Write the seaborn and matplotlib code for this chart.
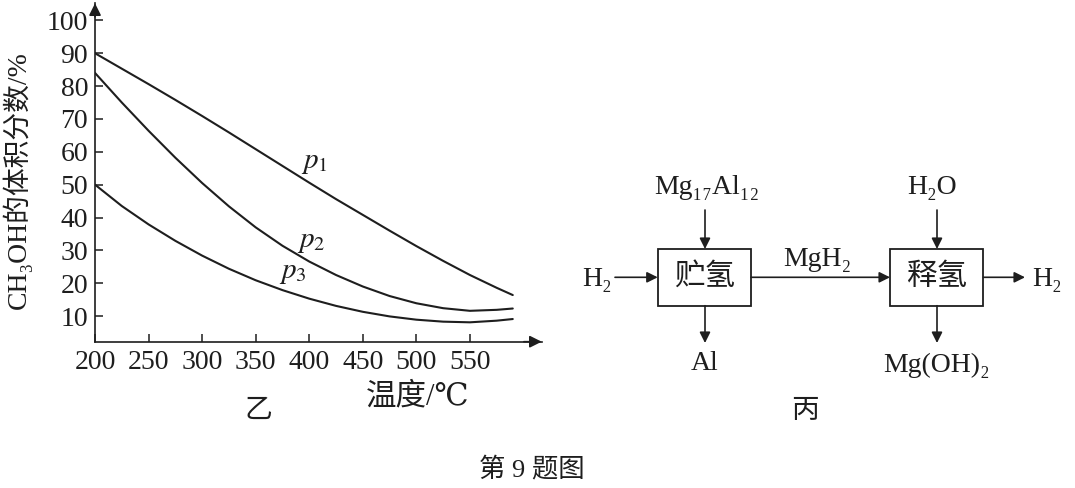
import numpy as np
import pandas as pd
import matplotlib
matplotlib.use("Agg")
import matplotlib.pyplot as plt
from matplotlib.patches import Rectangle
import seaborn as sns

# ─── data ─────────────────────────────────────────────────────────────────────
temps = [200, 225, 250, 275, 300, 325, 350, 375, 400, 425, 450, 475, 500, 525, 550, 575, 590]
p1_frac = [90.0, 85.3, 80.6, 75.8, 70.9, 65.9, 60.8, 55.7, 50.6, 45.6, 40.8, 36.0, 31.3, 26.8, 22.5, 18.6, 16.4]
p2_frac = [84.0, 75.0, 66.4, 58.2, 50.5, 43.4, 37.0, 31.4, 26.6, 22.5, 19.0, 16.1, 13.9, 12.4, 11.6, 11.9, 12.3]
p3_frac = [50.0, 43.5, 37.9, 32.9, 28.4, 24.4, 20.9, 17.9, 15.3, 13.1, 11.3, 9.9, 8.9, 8.3, 8.1, 8.6, 9.1]
series_names = ["p1", "p2", "p3"]
x_ticks = [200, 250, 300, 350, 400, 450, 500, 550]
y_ticks = [10, 20, 30, 40, 50, 60, 70, 80, 90, 100]

INK = "#1e1e1e"

sns.set_theme(style="white")
plt.rcParams["font.family"] = ["Liberation Serif", "DejaVu Serif", "Noto Sans CJK SC"]
plt.rcParams["mathtext.fontset"] = "stix"

fig = plt.figure(figsize=(10.75, 4.88), dpi=100)
fig.patch.set_facecolor("white")

# ─── 乙: line chart ───────────────────────────────────────────────────────────
ax = fig.add_axes([0.0884, 0.2998, 0.4155, 0.6934])
ax.set_facecolor("none")

df = pd.DataFrame({
    "temp": temps * 3,
    "frac": p1_frac + p2_frac + p3_frac,
    "p": sum([[n] * len(temps) for n in series_names], []),
})
sns.lineplot(data=df, x="temp", y="frac", hue="p", palette=[INK] * 3,
             legend=False, lw=1.5, ax=ax)

ax.set_xlim(200, 617)
ax.set_ylim(2.2, 105.2)
ax.set_xticks(x_ticks)
ax.set_yticks(y_ticks)
ax.tick_params(direction="in", length=6, width=1.1, color=INK,
               labelsize=20, labelcolor=INK, bottom=True, left=True)
ax.tick_params(axis="x", pad=6)
ax.tick_params(axis="y", pad=5)
for side in ("top", "right"):
    ax.spines[side].set_visible(False)
for side in ("left", "bottom"):
    ax.spines[side].set_color(INK)
    ax.spines[side].set_linewidth(1.2)

# axis arrows
ax.annotate("", xy=(1, 0), xytext=(0.96, 0), xycoords="axes fraction",
            arrowprops=dict(arrowstyle="-|>", color=INK, lw=1.2,
                            shrinkA=0, shrinkB=0, mutation_scale=18))
ax.annotate("", xy=(0, 1), xytext=(0, 0.96), xycoords="axes fraction",
            arrowprops=dict(arrowstyle="-|>", color=INK, lw=1.2,
                            shrinkA=0, shrinkB=0, mutation_scale=18))

ax.set_xlabel("")
ax.set_ylabel("")

# curve labels
label_pos = {"p1": (405, 56.5), "p2": (402, 32.6), "p3": (385, 23.0)}
for name, (lx, ly) in label_pos.items():
    ax.text(lx, ly, f"${name[0]}_{name[1]}$", fontsize=21, color=INK,
            ha="center", va="center")

# ─── overlay in pixel space for the flow diagram and captions ────────────────
dax = fig.add_axes([0, 0, 1, 1])
dax.set_xlim(0, 1075)
dax.set_ylim(488, 0)
dax.axis("off")


def arrow(x0, y0, x1, y1):
    dax.annotate("", xy=(x1, y1), xytext=(x0, y0),
                 arrowprops=dict(arrowstyle="-|>", color=INK, lw=1.2,
                                 shrinkA=0, shrinkB=0, mutation_scale=16))


def txt(x, y, s, size=20, **kw):
    dax.text(x, y, s, fontsize=size, color=INK, ha="center", va="center", **kw)


# y-axis title
txt(17, 180, "CH₃OH的体积分数/%", size=20, rotation=90)

# boxes
boxes = {"store": (657.7, 249, "贮氢"), "release": (890, 249, "释氢")}
bw, bh = 93.3, 56.7
for key, (bx, by, lab) in boxes.items():
    dax.add_patch(Rectangle((bx, by), bw, bh, fill=False, ec=INK, lw=1.3))
    txt(bx + bw / 2, by + bh / 2, lab, size=22)

# inputs / outputs
txt(597, 279, "H₂")
arrow(615, 277.3, 657.7, 277.3)
txt(707, 187, "Mg₁₇Al₁₂")
arrow(705, 210, 705, 249)
arrow(705, 305.7, 705, 343)
txt(705, 364, "Al")
txt(817, 259, "MgH₂")
arrow(751, 277.3, 890, 277.3)
txt(932, 187, "H₂O")
arrow(937, 210, 937, 249)
arrow(937, 305.7, 937, 343)
txt(937, 365, "Mg(OH)₂")
arrow(983.3, 277.3, 1025, 277.3)
txt(1047, 279, "H₂")

# captions
txt(418, 397, "温度/℃", size=22)
txt(258, 411, "乙", size=20)
txt(805, 411, "丙", size=20)
txt(532, 469, "第 9 题图", size=19)

fig.savefig("out.png", dpi=100, facecolor="white")
